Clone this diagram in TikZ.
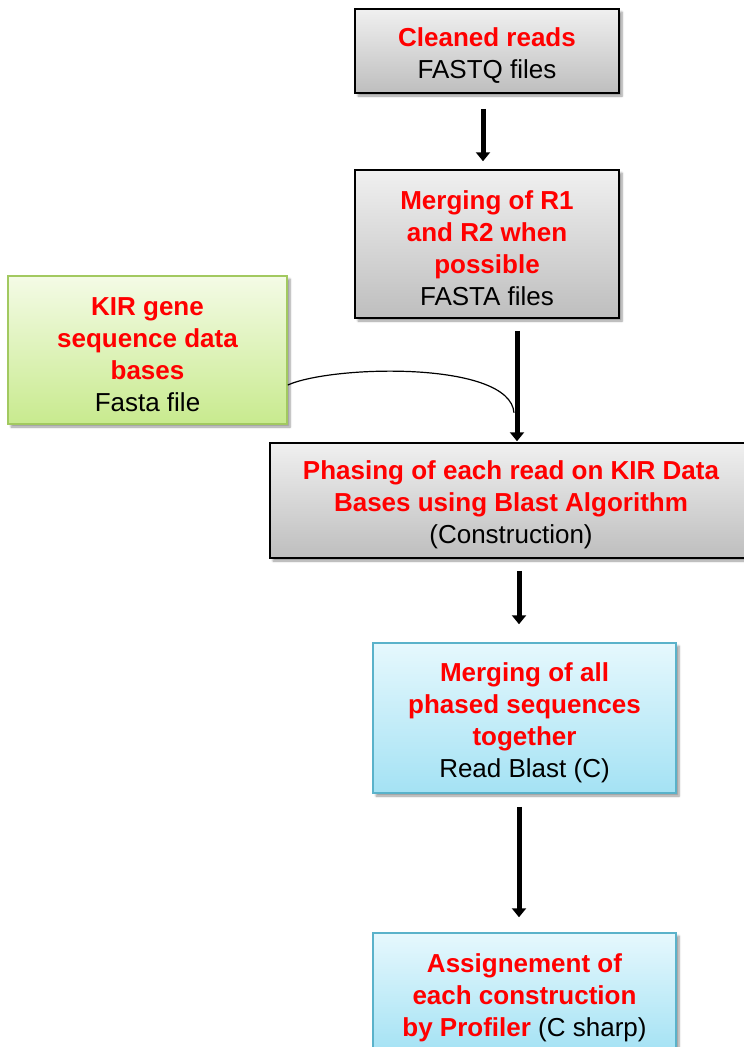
\documentclass[tikz,border=0pt]{standalone}
\usepackage{fontspec}
\setmainfont{Liberation Sans}
\usetikzlibrary{shadows.blur,arrows.meta}
\definecolor{grayT}{HTML}{F0F0F0}
\definecolor{grayB}{HTML}{BEBEBE}
\definecolor{greenT}{HTML}{F4FBE6}
\definecolor{greenB}{HTML}{C8EA8E}
\definecolor{greenD}{HTML}{A2C960}
\definecolor{blueT}{HTML}{E6F8FD}
\definecolor{blueB}{HTML}{A4E2F4}
\definecolor{blueD}{HTML}{5AB2CA}
\definecolor{titleRed}{HTML}{FF0000}
\newcommand\redb[1]{{\color{titleRed}\bfseries #1}}
\newcommand\strt{\rule{0pt}{28pt}}
\begin{document}
\begin{tikzpicture}[x=1pt,y=-1pt,
  box/.style={draw, line width=1.5pt, align=center, inner sep=0pt,
    font=\fontsize{26}{32}\selectfont,
    blur shadow={shadow xshift=3pt, shadow yshift=-3pt, shadow opacity=40, shadow blur steps=6}},
  graybox/.style={box, draw=black, top color=grayT, bottom color=grayB},
  greenbox/.style={box, draw=greenD, top color=greenT, bottom color=greenB},
  bluebox/.style={box, draw=blueD, top color=blueT, bottom color=blueB},
  arr/.style={line width=5pt, -{Triangle[width=14pt,length=9pt]}},
  link/.style={line width=1.2pt}]
\useasboundingbox (0,0) rectangle (744,1047);

\node[graybox, minimum width=264pt, minimum height=84pt] (b1) at (487,51)
  {\strt\redb{Cleaned reads}\\FASTQ files};
\node[graybox, minimum width=264pt, minimum height=148pt] (b2) at (487,244)
  {\strt\redb{Merging of R1}\\\redb{and R2 when}\\\redb{possible}\\FASTA files};
\node[greenbox, minimum width=279pt, minimum height=148pt] (kir) at (147.5,350)
  {\strt\redb{KIR gene}\\\redb{sequence data}\\\redb{bases}\\Fasta file};
\node[graybox, minimum width=482pt, minimum height=115pt] (b3) at (511,500.5)
  {\strt\redb{Phasing of each read on KIR Data}\\\redb{Bases using Blast Algorithm}\\(Construction)};
\node[bluebox, minimum width=303pt, minimum height=150pt] (b4) at (524.5,718)
  {\strt\redb{Merging of all}\\\redb{phased sequences}\\\redb{together}\\Read Blast (C)};
\node[bluebox, minimum width=303pt, minimum height=120pt] (b5) at (524.5,993)
  {\strt\redb{Assignement of}\\\redb{each construction}\\\redb{by Profiler} (C sharp)};

\draw[arr, shorten <=15pt, shorten >=8pt] ([xshift=-4pt]b1.south) -- ([xshift=-4pt]b1.south |- b2.north);
\draw[arr, shorten <=12pt, shorten >=1pt] ([xshift=30pt]b2.south) -- ([xshift=30pt]b2.south |- b3.north);
\draw[arr, shorten <=12pt, shorten >=18pt] ([xshift=8pt]b3.south) -- ([xshift=8pt]b3.south |- b4.north);
\draw[arr, shorten <=13pt, shorten >=15pt] ([xshift=-5.5pt]b4.south) -- ([xshift=-5.5pt]b4.south |- b5.north);

\coordinate (m) at ([xshift=27pt,yshift=-94pt]b2.south);
\draw[link] ([yshift=-35pt]kir.east) .. controls +(45,-20) and +(-4,-52) .. (m);
\end{tikzpicture}
\end{document}
